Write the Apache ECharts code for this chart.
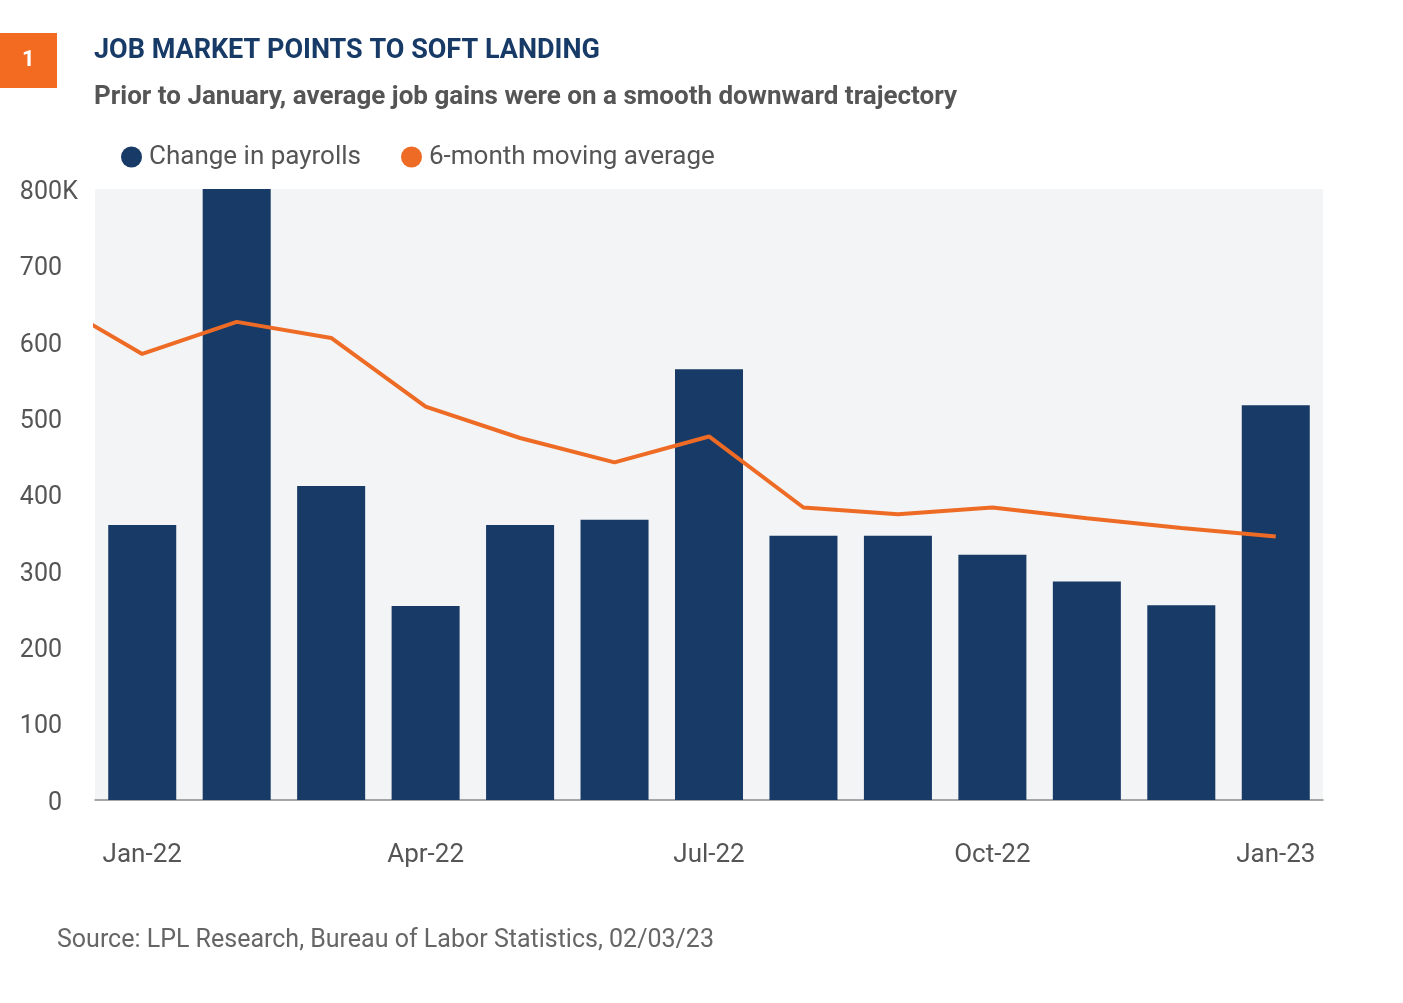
<!DOCTYPE html>
<html>
<head>
<meta charset="utf-8">
<script src="https://cdn.jsdelivr.net/npm/echarts@6/dist/echarts.min.js"></script>
<style>
  html, body { margin: 0; padding: 0; background: #ffffff; }
  #chart { width: 1403px; height: 1003px; }
</style>
</head>
<body>
<div id="chart"></div>
<script>
// ---- data ----
const months = ['Jan-22','Feb-22','Mar-22','Apr-22','May-22','Jun-22','Jul-22','Aug-22','Sep-22','Oct-22','Nov-22','Dec-22','Jan-23'];
// Change in payrolls (K); Feb-22 runs past the 800K axis top
const payrolls = [360, 800, 411, 254, 360, 367, 564, 346, 346, 321, 286, 255, 517];
// 6-month moving average (K), starting one month earlier (Dec-21)
const maMonths = ['Dec-21','Jan-22','Feb-22','Mar-22','Apr-22','May-22','Jun-22','Jul-22','Aug-22','Sep-22','Oct-22','Nov-22','Dec-22','Jan-23'];
const movingAvg = [656, 584, 626, 605, 515, 474, 442, 476, 383, 374, 383, 369, 356, 345];
const yTicks = [0, 100, 200, 300, 400, 500, 600, 700, 800];

const NAVY = '#173a66';
const ORANGE = '#ee6b25';
const FONT = 'Roboto';

const chart = echarts.init(document.getElementById('chart'), null, { renderer: 'canvas' });

const lineData = movingAvg.map((v, i) => [i - 1, v]);

chart.setOption({
  animation: false,
  backgroundColor: '#ffffff',
  title: {
    text: 'JOB MARKET POINTS TO SOFT LANDING',
    subtext: 'Prior to January, average job gains were on a smooth downward trajectory',
    left: 89, top: 33, itemGap: 19,
    textStyle: { fontFamily: FONT, fontWeight: 'bold', fontSize: 27, color: '#173a66' },
    subtextStyle: { fontFamily: FONT, fontWeight: 'bold', fontSize: 26, color: '#555555' }
  },
  legend: {
    left: 116, top: 139, itemWidth: 21, itemHeight: 21, itemGap: 40,
    textStyle: { fontFamily: FONT, fontSize: 26, color: '#555555', padding: [0, 0, 0, 2] },
    data: [
      { name: 'Change in payrolls', icon: 'circle', itemStyle: { color: NAVY } },
      { name: '6-month moving average', icon: 'circle', itemStyle: { color: ORANGE } }
    ]
  },
  grid: {
    left: 95, right: 80, top: 189, bottom: 203,
    show: true, backgroundColor: '#f3f4f6', borderWidth: 0
  },
  xAxis: [
    {
      type: 'category', data: months,
      axisLine: { show: true, lineStyle: { color: '#8a8a8a', width: 1.5 } },
      axisTick: { show: false },
      axisLabel: { interval: 2, margin: 42, fontFamily: FONT, fontSize: 26, color: '#555555' }
    },
    { type: 'value', min: -0.5, max: months.length - 0.5, show: false }
  ],
  yAxis: {
    type: 'value', min: yTicks[0], max: yTicks[yTicks.length - 1], interval: 100,
    axisLine: { show: false }, axisTick: { show: false }, splitLine: { show: false },
    axisLabel: {
      margin: 17, fontFamily: FONT, fontSize: 25, color: '#555555', padding: [7, 0, 0, 0],
      formatter: v => v === 800 ? '{n|800}{k|K}' : '{n|' + v + '}{s| }',
      rich: {
        n: { fontFamily: FONT, fontSize: 25, color: '#555555' },
        k: { fontFamily: FONT, fontSize: 25, color: '#555555', width: 16, align: 'left' },
        s: { fontFamily: FONT, fontSize: 25, color: '#555555', width: 16 }
      }
    }
  },
  series: [
    {
      name: 'Change in payrolls', type: 'bar', data: payrolls,
      barWidth: '72%', itemStyle: { color: NAVY }, clip: true
    },
    {
      name: '6-month moving average', type: 'line', xAxisIndex: 1, data: lineData,
      symbol: 'none', lineStyle: { color: ORANGE, width: 4 }, itemStyle: { color: ORANGE }, clip: true
    }
  ],
  graphic: [
    { type: 'rect', left: 0, top: 33, shape: { width: 57, height: 55 }, style: { fill: '#f26b21' } },
    { type: 'text', left: 22, top: 49, style: { text: '1', fill: '#ffffff', font: 'bold 22px Roboto' } },
    { type: 'text', left: 57, top: 928, style: { text: 'Source: LPL Research, Bureau of Labor Statistics, 02/03/23', fill: '#666666', font: '25px Roboto' } }
  ]
});
</script>
</body>
</html>
